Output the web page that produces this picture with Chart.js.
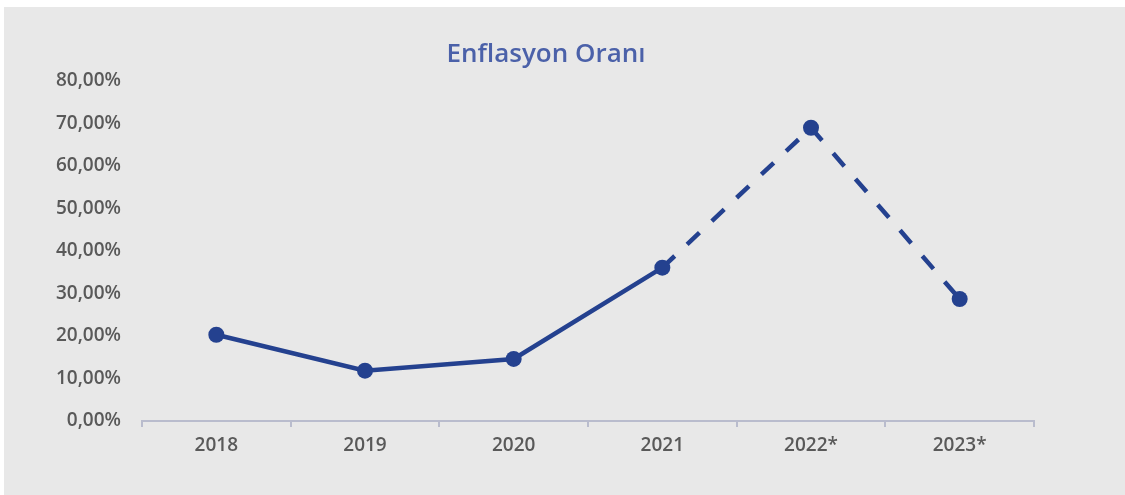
<!DOCTYPE html>
<html lang="tr">
<head>
    <meta charset="UTF-8">
    <title>Enflasyon Oranı</title>
    <script src="https://cdn.jsdelivr.net/npm/chart.js"></script>
    <style>
        body {
            margin: 0;
            background: #ffffff;
        }

        .panel {
            position: absolute;
            left: 4px;
            top: 7px;
            width: 1121px;
            height: 488px;
            background: #e8e8e8;
        }
    </style>
</head>
<body>
    <div class="panel">
        <canvas id="inflationChart" width="1121" height="488"></canvas>
    </div>

    <script>
        // Data
        const years = ['2018', '2019', '2020', '2021', '2022*', '2023*'];
        const inflationRates = [20.3, 11.84, 14.6, 36.08, 69.0, 28.7];
        const forecastStart = 3; // segments after 2021 are dashed
        const yTicks = [0, 10, 20, 30, 40, 50, 60, 70, 80];
        const chartTitle = 'Enflasyon Oranı';

        const lineColor = '#24418f';
        const textColor = '#595959';
        const axisColor = '#b9bccd';

        // title drawn centred where the original sits
        const titlePlugin = {
            id: 'panelTitle',
            afterDraw(chart) {
                const ctx = chart.ctx;
                ctx.save();
                ctx.font = '600 26px "Open Sans"';
                ctx.fillStyle = '#4b61a9';
                ctx.textAlign = 'center';
                ctx.textBaseline = 'middle';
                ctx.fillText(chartTitle, 542, 48);
                ctx.restore();
            }
        };

        new Chart(document.getElementById('inflationChart'), {
            type: 'line',
            data: {
                labels: years,
                datasets: [{
                    data: inflationRates,
                    borderColor: lineColor,
                    backgroundColor: lineColor,
                    borderWidth: 4.5,
                    pointRadius: 8,
                    pointHoverRadius: 8,
                    pointBackgroundColor: lineColor,
                    pointBorderWidth: 0,
                    tension: 0,
                    segment: {
                        borderDash: ctx => ctx.p0DataIndex >= forecastStart ? [17, 17] : undefined
                    }
                }]
            },
            options: {
                responsive: false,
                animation: false,
                layout: {
                    padding: { top: 74, right: 91, left: 0, bottom: 0 }
                },
                plugins: {
                    legend: { display: false },
                    tooltip: { enabled: false },
                    title: { display: false }
                },
                scales: {
                    x: {
                        offset: true,
                        afterFit: scale => { scale.height = 74; },
                        border: { display: true, color: axisColor, width: 2 },
                        grid: {
                            offset: true,
                            drawOnChartArea: false,
                            drawTicks: true,
                            tickLength: 6,
                            color: axisColor,
                            lineWidth: 2
                        },
                        ticks: {
                            color: textColor,
                            padding: 7,
                            font: { family: 'Open Sans', size: 19, weight: '600' }
                        }
                    },
                    y: {
                        min: 0,
                        max: 80,
                        afterFit: scale => { scale.width = 138; },
                        afterBuildTicks: scale => {
                            scale.ticks = yTicks.map(v => ({ value: v }));
                        },
                        border: { display: false },
                        grid: { display: false, drawTicks: false },
                        ticks: {
                            color: textColor,
                            padding: 21,
                            font: { family: 'Open Sans', size: 19, weight: '600' },
                            callback: v => v.toFixed(2).replace('.', ',') + '%'
                        }
                    }
                }
            },
            plugins: [titlePlugin]
        });
    </script>
</body>
</html>
